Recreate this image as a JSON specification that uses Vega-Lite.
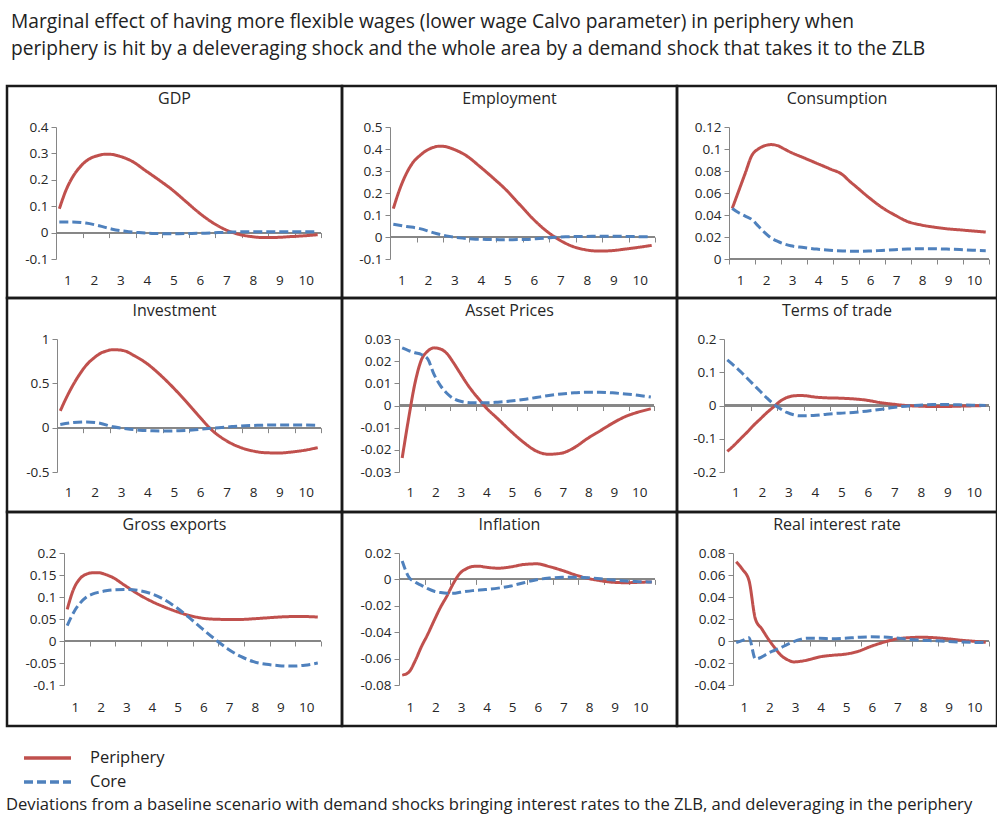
{
  "$schema": "https://vega.github.io/schema/vega-lite/v6.json",
  "background": "white",
  "padding": {"left": 5, "top": 12, "right": 0, "bottom": 0},
  "bounds": "flush",
  "title": {
    "text": ["Marginal effect of having more flexible wages (lower wage Calvo parameter) in periphery when", "periphery is hit by a deleveraging shock and the whole area by a demand shock that takes it to the ZLB"],
    "anchor": "start", "frame": "group", "font": "Open Sans", "fontSize": 19.2, "fontWeight": "normal", "color": "#222222", "lineHeight": 27, "offset": 26, "dx": 4
  },
  "datasets": {
    "gdp": [
      {"q":1,"s":"Periphery","v":0.09},{"q":2,"s":"Periphery","v":0.16},{"q":3,"s":"Periphery","v":0.21},{"q":4,"s":"Periphery","v":0.245},{"q":5,"s":"Periphery","v":0.27},{"q":6,"s":"Periphery","v":0.285},{"q":7,"s":"Periphery","v":0.293},{"q":8,"s":"Periphery","v":0.297},{"q":9,"s":"Periphery","v":0.296},{"q":10,"s":"Periphery","v":0.29},{"q":12,"s":"Periphery","v":0.27},{"q":14,"s":"Periphery","v":0.235},{"q":16,"s":"Periphery","v":0.2},{"q":18,"s":"Periphery","v":0.163},{"q":20,"s":"Periphery","v":0.12},{"q":22,"s":"Periphery","v":0.077},{"q":24,"s":"Periphery","v":0.04},{"q":26,"s":"Periphery","v":0.012},{"q":28,"s":"Periphery","v":-0.006},{"q":30,"s":"Periphery","v":-0.015},{"q":32,"s":"Periphery","v":-0.019},{"q":34,"s":"Periphery","v":-0.018},{"q":36,"s":"Periphery","v":-0.015},{"q":38,"s":"Periphery","v":-0.012},{"q":40,"s":"Periphery","v":-0.008},
      {"q":1,"s":"Core","v":0.04},{"q":3,"s":"Core","v":0.04},{"q":5,"s":"Core","v":0.036},{"q":7,"s":"Core","v":0.026},{"q":9,"s":"Core","v":0.013},{"q":11,"s":"Core","v":0.005},{"q":13,"s":"Core","v":0.0},{"q":15,"s":"Core","v":-0.003},{"q":17,"s":"Core","v":-0.004},{"q":19,"s":"Core","v":-0.004},{"q":21,"s":"Core","v":-0.003},{"q":23,"s":"Core","v":-0.002},{"q":25,"s":"Core","v":0.0},{"q":27,"s":"Core","v":0.002},{"q":29,"s":"Core","v":0.003},{"q":31,"s":"Core","v":0.003},{"q":33,"s":"Core","v":0.003},{"q":35,"s":"Core","v":0.003},{"q":37,"s":"Core","v":0.003},{"q":40,"s":"Core","v":0.003}
    ],
    "emp": [
      {"q":1,"s":"Periphery","v":0.129},{"q":2,"s":"Periphery","v":0.22},{"q":3,"s":"Periphery","v":0.29},{"q":4,"s":"Periphery","v":0.34},{"q":5,"s":"Periphery","v":0.37},{"q":6,"s":"Periphery","v":0.393},{"q":7,"s":"Periphery","v":0.407},{"q":8,"s":"Periphery","v":0.413},{"q":9,"s":"Periphery","v":0.41},{"q":10,"s":"Periphery","v":0.4},{"q":12,"s":"Periphery","v":0.37},{"q":14,"s":"Periphery","v":0.322},{"q":16,"s":"Periphery","v":0.27},{"q":18,"s":"Periphery","v":0.215},{"q":20,"s":"Periphery","v":0.15},{"q":22,"s":"Periphery","v":0.085},{"q":24,"s":"Periphery","v":0.03},{"q":26,"s":"Periphery","v":-0.012},{"q":28,"s":"Periphery","v":-0.042},{"q":30,"s":"Periphery","v":-0.058},{"q":32,"s":"Periphery","v":-0.064},{"q":34,"s":"Periphery","v":-0.062},{"q":36,"s":"Periphery","v":-0.055},{"q":38,"s":"Periphery","v":-0.047},{"q":40,"s":"Periphery","v":-0.038},
      {"q":1,"s":"Core","v":0.058},{"q":3,"s":"Core","v":0.048},{"q":5,"s":"Core","v":0.038},{"q":7,"s":"Core","v":0.02},{"q":9,"s":"Core","v":0.005},{"q":11,"s":"Core","v":-0.004},{"q":13,"s":"Core","v":-0.009},{"q":15,"s":"Core","v":-0.011},{"q":17,"s":"Core","v":-0.012},{"q":19,"s":"Core","v":-0.012},{"q":21,"s":"Core","v":-0.011},{"q":23,"s":"Core","v":-0.007},{"q":25,"s":"Core","v":-0.002},{"q":27,"s":"Core","v":0.001},{"q":29,"s":"Core","v":0.002},{"q":31,"s":"Core","v":0.003},{"q":33,"s":"Core","v":0.003},{"q":35,"s":"Core","v":0.003},{"q":37,"s":"Core","v":0.002},{"q":40,"s":"Core","v":0.001}
    ],
    "cons": [
      {"q":1,"s":"Periphery","v":0.046},{"q":2,"s":"Periphery","v":0.062},{"q":3,"s":"Periphery","v":0.078},{"q":4,"s":"Periphery","v":0.094},{"q":5,"s":"Periphery","v":0.1},{"q":6,"s":"Periphery","v":0.103},{"q":7,"s":"Periphery","v":0.104},{"q":8,"s":"Periphery","v":0.103},{"q":9,"s":"Periphery","v":0.1},{"q":10,"s":"Periphery","v":0.097},{"q":12,"s":"Periphery","v":0.092},{"q":14,"s":"Periphery","v":0.087},{"q":16,"s":"Periphery","v":0.082},{"q":18,"s":"Periphery","v":0.0765},{"q":19,"s":"Periphery","v":0.071},{"q":20,"s":"Periphery","v":0.066},{"q":22,"s":"Periphery","v":0.056},{"q":24,"s":"Periphery","v":0.047},{"q":26,"s":"Periphery","v":0.04},{"q":28,"s":"Periphery","v":0.034},{"q":30,"s":"Periphery","v":0.031},{"q":32,"s":"Periphery","v":0.029},{"q":34,"s":"Periphery","v":0.0275},{"q":36,"s":"Periphery","v":0.0265},{"q":38,"s":"Periphery","v":0.0255},{"q":40,"s":"Periphery","v":0.0245},
      {"q":1,"s":"Core","v":0.046},{"q":2,"s":"Core","v":0.042},{"q":3,"s":"Core","v":0.039},{"q":4,"s":"Core","v":0.036},{"q":5,"s":"Core","v":0.03},{"q":6,"s":"Core","v":0.024},{"q":7,"s":"Core","v":0.019},{"q":8,"s":"Core","v":0.016},{"q":10,"s":"Core","v":0.012},{"q":12,"s":"Core","v":0.0105},{"q":14,"s":"Core","v":0.009},{"q":16,"s":"Core","v":0.008},{"q":18,"s":"Core","v":0.0073},{"q":20,"s":"Core","v":0.007},{"q":22,"s":"Core","v":0.0072},{"q":24,"s":"Core","v":0.0078},{"q":26,"s":"Core","v":0.0085},{"q":28,"s":"Core","v":0.009},{"q":30,"s":"Core","v":0.0093},{"q":32,"s":"Core","v":0.0093},{"q":34,"s":"Core","v":0.009},{"q":36,"s":"Core","v":0.0086},{"q":38,"s":"Core","v":0.008},{"q":40,"s":"Core","v":0.0076}
    ],
    "inv": [
      {"q":1,"s":"Periphery","v":0.19},{"q":2,"s":"Periphery","v":0.35},{"q":3,"s":"Periphery","v":0.49},{"q":4,"s":"Periphery","v":0.61},{"q":5,"s":"Periphery","v":0.71},{"q":6,"s":"Periphery","v":0.78},{"q":7,"s":"Periphery","v":0.835},{"q":8,"s":"Periphery","v":0.865},{"q":9,"s":"Periphery","v":0.88},{"q":10,"s":"Periphery","v":0.876},{"q":11,"s":"Periphery","v":0.86},{"q":12,"s":"Periphery","v":0.82},{"q":14,"s":"Periphery","v":0.73},{"q":16,"s":"Periphery","v":0.605},{"q":18,"s":"Periphery","v":0.46},{"q":20,"s":"Periphery","v":0.3},{"q":22,"s":"Periphery","v":0.13},{"q":24,"s":"Periphery","v":-0.03},{"q":26,"s":"Periphery","v":-0.14},{"q":28,"s":"Periphery","v":-0.215},{"q":30,"s":"Periphery","v":-0.26},{"q":32,"s":"Periphery","v":-0.282},{"q":34,"s":"Periphery","v":-0.286},{"q":36,"s":"Periphery","v":-0.275},{"q":38,"s":"Periphery","v":-0.255},{"q":40,"s":"Periphery","v":-0.225},
      {"q":1,"s":"Core","v":0.035},{"q":3,"s":"Core","v":0.058},{"q":5,"s":"Core","v":0.065},{"q":7,"s":"Core","v":0.05},{"q":9,"s":"Core","v":0.01},{"q":11,"s":"Core","v":-0.012},{"q":13,"s":"Core","v":-0.028},{"q":15,"s":"Core","v":-0.036},{"q":17,"s":"Core","v":-0.038},{"q":19,"s":"Core","v":-0.035},{"q":21,"s":"Core","v":-0.027},{"q":23,"s":"Core","v":-0.013},{"q":25,"s":"Core","v":0.0},{"q":27,"s":"Core","v":0.012},{"q":29,"s":"Core","v":0.022},{"q":31,"s":"Core","v":0.027},{"q":33,"s":"Core","v":0.03},{"q":35,"s":"Core","v":0.03},{"q":37,"s":"Core","v":0.03},{"q":40,"s":"Core","v":0.026}
    ],
    "asset": [
      {"q":1,"s":"Periphery","v":-0.0237},{"q":2,"s":"Periphery","v":-0.006},{"q":3,"s":"Periphery","v":0.01},{"q":4,"s":"Periphery","v":0.0205},{"q":5,"s":"Periphery","v":0.0245},{"q":6,"s":"Periphery","v":0.026},{"q":7,"s":"Periphery","v":0.0255},{"q":8,"s":"Periphery","v":0.0235},{"q":9,"s":"Periphery","v":0.0195},{"q":10,"s":"Periphery","v":0.015},{"q":11,"s":"Periphery","v":0.0105},{"q":12,"s":"Periphery","v":0.0065},{"q":13,"s":"Periphery","v":0.003},{"q":14,"s":"Periphery","v":-0.0005},{"q":16,"s":"Periphery","v":-0.006},{"q":18,"s":"Periphery","v":-0.0115},{"q":20,"s":"Periphery","v":-0.0165},{"q":22,"s":"Periphery","v":-0.0205},{"q":24,"s":"Periphery","v":-0.022},{"q":26,"s":"Periphery","v":-0.0215},{"q":28,"s":"Periphery","v":-0.019},{"q":30,"s":"Periphery","v":-0.015},{"q":32,"s":"Periphery","v":-0.0115},{"q":34,"s":"Periphery","v":-0.008},{"q":36,"s":"Periphery","v":-0.005},{"q":38,"s":"Periphery","v":-0.003},{"q":40,"s":"Periphery","v":-0.0015},
      {"q":1,"s":"Core","v":0.026},{"q":2,"s":"Core","v":0.0248},{"q":3,"s":"Core","v":0.0238},{"q":4,"s":"Core","v":0.023},{"q":5,"s":"Core","v":0.021},{"q":6,"s":"Core","v":0.014},{"q":7,"s":"Core","v":0.009},{"q":8,"s":"Core","v":0.0055},{"q":9,"s":"Core","v":0.0032},{"q":10,"s":"Core","v":0.002},{"q":12,"s":"Core","v":0.0012},{"q":14,"s":"Core","v":0.0012},{"q":16,"s":"Core","v":0.0015},{"q":18,"s":"Core","v":0.002},{"q":20,"s":"Core","v":0.0027},{"q":22,"s":"Core","v":0.0036},{"q":24,"s":"Core","v":0.0045},{"q":26,"s":"Core","v":0.0052},{"q":28,"s":"Core","v":0.0057},{"q":30,"s":"Core","v":0.006},{"q":32,"s":"Core","v":0.006},{"q":34,"s":"Core","v":0.0057},{"q":36,"s":"Core","v":0.0052},{"q":38,"s":"Core","v":0.0046},{"q":40,"s":"Core","v":0.0038}
    ],
    "tot": [
      {"q":1,"s":"Periphery","v":-0.138},{"q":2,"s":"Periphery","v":-0.12},{"q":3,"s":"Periphery","v":-0.1},{"q":4,"s":"Periphery","v":-0.08},{"q":5,"s":"Periphery","v":-0.059},{"q":6,"s":"Periphery","v":-0.04},{"q":7,"s":"Periphery","v":-0.021},{"q":8,"s":"Periphery","v":-0.004},{"q":9,"s":"Periphery","v":0.013},{"q":10,"s":"Periphery","v":0.024},{"q":11,"s":"Periphery","v":0.029},{"q":12,"s":"Periphery","v":0.03},{"q":13,"s":"Periphery","v":0.029},{"q":14,"s":"Periphery","v":0.026},{"q":16,"s":"Periphery","v":0.023},{"q":18,"s":"Periphery","v":0.022},{"q":20,"s":"Periphery","v":0.02},{"q":22,"s":"Periphery","v":0.016},{"q":24,"s":"Periphery","v":0.009},{"q":26,"s":"Periphery","v":0.004},{"q":28,"s":"Periphery","v":0.0},{"q":30,"s":"Periphery","v":-0.002},{"q":32,"s":"Periphery","v":-0.003},{"q":34,"s":"Periphery","v":-0.003},{"q":36,"s":"Periphery","v":-0.002},{"q":38,"s":"Periphery","v":-0.001},{"q":40,"s":"Periphery","v":0.0},
      {"q":1,"s":"Core","v":0.137},{"q":2,"s":"Core","v":0.12},{"q":3,"s":"Core","v":0.102},{"q":4,"s":"Core","v":0.082},{"q":5,"s":"Core","v":0.062},{"q":6,"s":"Core","v":0.042},{"q":7,"s":"Core","v":0.022},{"q":8,"s":"Core","v":0.004},{"q":9,"s":"Core","v":-0.01},{"q":10,"s":"Core","v":-0.021},{"q":11,"s":"Core","v":-0.028},{"q":12,"s":"Core","v":-0.031},{"q":14,"s":"Core","v":-0.03},{"q":16,"s":"Core","v":-0.026},{"q":18,"s":"Core","v":-0.023},{"q":20,"s":"Core","v":-0.021},{"q":22,"s":"Core","v":-0.017},{"q":24,"s":"Core","v":-0.012},{"q":26,"s":"Core","v":-0.006},{"q":28,"s":"Core","v":-0.002},{"q":30,"s":"Core","v":0.001},{"q":32,"s":"Core","v":0.003},{"q":34,"s":"Core","v":0.003},{"q":36,"s":"Core","v":0.002},{"q":38,"s":"Core","v":0.001},{"q":40,"s":"Core","v":0.0}
    ],
    "exp": [
      {"q":1,"s":"Periphery","v":0.072},{"q":2,"s":"Periphery","v":0.118},{"q":3,"s":"Periphery","v":0.142},{"q":4,"s":"Periphery","v":0.152},{"q":5,"s":"Periphery","v":0.155},{"q":6,"s":"Periphery","v":0.155},{"q":7,"s":"Periphery","v":0.151},{"q":8,"s":"Periphery","v":0.145},{"q":10,"s":"Periphery","v":0.126},{"q":12,"s":"Periphery","v":0.107},{"q":14,"s":"Periphery","v":0.091},{"q":16,"s":"Periphery","v":0.078},{"q":18,"s":"Periphery","v":0.067},{"q":20,"s":"Periphery","v":0.058},{"q":22,"s":"Periphery","v":0.052},{"q":24,"s":"Periphery","v":0.0495},{"q":26,"s":"Periphery","v":0.049},{"q":28,"s":"Periphery","v":0.049},{"q":30,"s":"Periphery","v":0.0505},{"q":32,"s":"Periphery","v":0.0525},{"q":34,"s":"Periphery","v":0.0545},{"q":36,"s":"Periphery","v":0.0555},{"q":38,"s":"Periphery","v":0.0555},{"q":40,"s":"Periphery","v":0.0545},
      {"q":1,"s":"Core","v":0.035},{"q":2,"s":"Core","v":0.065},{"q":3,"s":"Core","v":0.086},{"q":4,"s":"Core","v":0.1},{"q":5,"s":"Core","v":0.107},{"q":6,"s":"Core","v":0.111},{"q":7,"s":"Core","v":0.114},{"q":8,"s":"Core","v":0.116},{"q":10,"s":"Core","v":0.117},{"q":12,"s":"Core","v":0.115},{"q":14,"s":"Core","v":0.108},{"q":16,"s":"Core","v":0.095},{"q":18,"s":"Core","v":0.076},{"q":20,"s":"Core","v":0.053},{"q":22,"s":"Core","v":0.028},{"q":24,"s":"Core","v":0.004},{"q":26,"s":"Core","v":-0.018},{"q":28,"s":"Core","v":-0.035},{"q":30,"s":"Core","v":-0.047},{"q":32,"s":"Core","v":-0.053},{"q":34,"s":"Core","v":-0.056},{"q":36,"s":"Core","v":-0.057},{"q":38,"s":"Core","v":-0.055},{"q":40,"s":"Core","v":-0.05}
    ],
    "infl": [
      {"q":1,"s":"Periphery","v":-0.0725},{"q":2,"s":"Periphery","v":-0.0705},{"q":3,"s":"Periphery","v":-0.062},{"q":4,"s":"Periphery","v":-0.051},{"q":5,"s":"Periphery","v":-0.0415},{"q":6,"s":"Periphery","v":-0.031},{"q":7,"s":"Periphery","v":-0.021},{"q":8,"s":"Periphery","v":-0.0125},{"q":9,"s":"Periphery","v":-0.003},{"q":10,"s":"Periphery","v":0.0045},{"q":11,"s":"Periphery","v":0.008},{"q":12,"s":"Periphery","v":0.0098},{"q":13,"s":"Periphery","v":0.01},{"q":14,"s":"Periphery","v":0.0093},{"q":16,"s":"Periphery","v":0.0085},{"q":18,"s":"Periphery","v":0.0095},{"q":20,"s":"Periphery","v":0.0113},{"q":22,"s":"Periphery","v":0.0118},{"q":24,"s":"Periphery","v":0.0097},{"q":26,"s":"Periphery","v":0.0068},{"q":28,"s":"Periphery","v":0.0035},{"q":30,"s":"Periphery","v":0.0008},{"q":32,"s":"Periphery","v":-0.001},{"q":34,"s":"Periphery","v":-0.0022},{"q":36,"s":"Periphery","v":-0.0025},{"q":38,"s":"Periphery","v":-0.0022},{"q":40,"s":"Periphery","v":-0.0019},
      {"q":1,"s":"Core","v":0.014},{"q":2,"s":"Core","v":0.002},{"q":3,"s":"Core","v":-0.002},{"q":4,"s":"Core","v":-0.0045},{"q":5,"s":"Core","v":-0.007},{"q":6,"s":"Core","v":-0.009},{"q":7,"s":"Core","v":-0.01},{"q":8,"s":"Core","v":-0.0105},{"q":9,"s":"Core","v":-0.0105},{"q":10,"s":"Core","v":-0.0098},{"q":12,"s":"Core","v":-0.0085},{"q":14,"s":"Core","v":-0.0077},{"q":16,"s":"Core","v":-0.0066},{"q":18,"s":"Core","v":-0.005},{"q":20,"s":"Core","v":-0.0025},{"q":22,"s":"Core","v":-0.0002},{"q":24,"s":"Core","v":0.001},{"q":26,"s":"Core","v":0.0016},{"q":28,"s":"Core","v":0.0017},{"q":30,"s":"Core","v":0.0013},{"q":32,"s":"Core","v":0.0005},{"q":34,"s":"Core","v":-0.0005},{"q":36,"s":"Core","v":-0.0012},{"q":38,"s":"Core","v":-0.0017},{"q":40,"s":"Core","v":-0.002}
    ],
    "rate": [
      {"q":1,"s":"Periphery","v":0.072},{"q":2,"s":"Periphery","v":0.065},{"q":3,"s":"Periphery","v":0.055},{"q":4,"s":"Periphery","v":0.02},{"q":5,"s":"Periphery","v":0.011},{"q":6,"s":"Periphery","v":0.002},{"q":7,"s":"Periphery","v":-0.006},{"q":8,"s":"Periphery","v":-0.013},{"q":9,"s":"Periphery","v":-0.017},{"q":10,"s":"Periphery","v":-0.019},{"q":11,"s":"Periphery","v":-0.0185},{"q":12,"s":"Periphery","v":-0.0175},{"q":14,"s":"Periphery","v":-0.0145},{"q":16,"s":"Periphery","v":-0.013},{"q":18,"s":"Periphery","v":-0.012},{"q":20,"s":"Periphery","v":-0.0095},{"q":22,"s":"Periphery","v":-0.005},{"q":24,"s":"Periphery","v":-0.0012},{"q":26,"s":"Periphery","v":0.0018},{"q":28,"s":"Periphery","v":0.003},{"q":30,"s":"Periphery","v":0.0034},{"q":32,"s":"Periphery","v":0.003},{"q":34,"s":"Periphery","v":0.002},{"q":36,"s":"Periphery","v":0.0008},{"q":38,"s":"Periphery","v":-0.0002},{"q":40,"s":"Periphery","v":-0.0012},
      {"q":1,"s":"Core","v":-0.0015},{"q":2,"s":"Core","v":0.0005},{"q":3,"s":"Core","v":0.003},{"q":4,"s":"Core","v":-0.0163},{"q":5,"s":"Core","v":-0.0145},{"q":6,"s":"Core","v":-0.011},{"q":7,"s":"Core","v":-0.0085},{"q":8,"s":"Core","v":-0.006},{"q":9,"s":"Core","v":-0.003},{"q":10,"s":"Core","v":-0.0005},{"q":11,"s":"Core","v":0.0015},{"q":12,"s":"Core","v":0.0025},{"q":14,"s":"Core","v":0.0025},{"q":16,"s":"Core","v":0.002},{"q":18,"s":"Core","v":0.0025},{"q":20,"s":"Core","v":0.0033},{"q":22,"s":"Core","v":0.0038},{"q":24,"s":"Core","v":0.0036},{"q":26,"s":"Core","v":0.0028},{"q":28,"s":"Core","v":0.0015},{"q":30,"s":"Core","v":0.0007},{"q":32,"s":"Core","v":0.0002},{"q":34,"s":"Core","v":-0.0004},{"q":36,"s":"Core","v":-0.0009},{"q":38,"s":"Core","v":-0.0013},{"q":40,"s":"Core","v":-0.0015}
    ]
  },
  "columns": 3,
  "spacing": 0,
  "concat": [
    {
      "width": 335, "height": 212,
      "title": {"text": "GDP"},
      "data": {"name": "gdp"},
      "resolve": {"axis": {"x": "independent"}},
      "layer": [
        {"mark": {"type": "rule", "color": "#868686", "strokeWidth": 1.3},
         "encoding": {
           "x": {"datum": 0.5, "type": "quantitative", "scale": {"domain": [0.5, 40.5], "range": [49, 314], "nice": false, "zero": false},
                 "axis": {"orient": "bottom", "offset": -65.4, "values": [0.5,4.5,8.5,12.5,16.5,20.5,24.5,28.5,32.5,36.5,40.5], "labels": false, "domain": false, "tickSize": 5, "tickColor": "#868686", "grid": false, "title": null}},
           "x2": {"datum": 40.5},
           "y": {"datum": 0, "type": "quantitative", "scale": {"domain": [-0.1, 0.4], "range": [173, 41], "nice": false, "zero": false},
                 "axis": {"orient": "left", "offset": -49, "values": [-0.1,0,0.1,0.2,0.3,0.4], "labelExpr": "'' + datum.value", "title": null}}
         }},
        {"mark": {"type": "line", "strokeWidth": 3, "interpolate": "monotone"},
         "encoding": {
           "x": {"field": "q", "type": "quantitative", "axis": {"orient": "bottom", "offset": -27, "values": [2.5,6.5,10.5,14.5,18.5,22.5,26.5,30.5,34.5,38.5], "labelExpr": "'' + (datum.value + 1.5) / 4", "domain": false, "ticks": false, "tickSize": 0, "grid": false, "title": null}},
           "y": {"field": "v", "type": "quantitative", "axis": {"orient": "left", "offset": -49, "values": [-0.1,0,0.1,0.2,0.3,0.4], "labelExpr": "'' + datum.value", "title": null}},
           "color": {"field": "s", "type": "nominal", "title": "Deviations from a baseline scenario with demand shocks bringing interest rates to the ZLB, and deleveraging in the periphery", "scale": {"domain": ["Periphery", "Core"], "range": ["#C0504D", "#4F81BD"]}},
           "strokeDash": {"field": "s", "type": "nominal", "title": "Deviations from a baseline scenario with demand shocks bringing interest rates to the ZLB, and deleveraging in the periphery", "scale": {"domain": ["Periphery", "Core"], "range": [[1, 0], [9, 4]]}}
         }}
      ]
    },
    {
      "width": 335, "height": 212,
      "title": {"text": "Employment"},
      "data": {"name": "emp"},
      "resolve": {"axis": {"x": "independent"}},
      "layer": [
        {"mark": {"type": "rule", "color": "#868686", "strokeWidth": 1.3},
         "encoding": {
           "x": {"datum": 0.5, "type": "quantitative", "scale": {"domain": [0.5, 40.5], "range": [48, 313], "nice": false, "zero": false},
                 "axis": {"orient": "bottom", "offset": -61, "values": [0.5,4.5,8.5,12.5,16.5,20.5,24.5,28.5,32.5,36.5,40.5], "labels": false, "domain": false, "tickSize": 5, "tickColor": "#868686", "grid": false, "title": null}},
           "x2": {"datum": 40.5},
           "y": {"datum": 0, "type": "quantitative", "scale": {"domain": [-0.1, 0.5], "range": [173, 41], "nice": false, "zero": false},
                 "axis": {"orient": "left", "offset": -48, "values": [-0.1,0,0.1,0.2,0.3,0.4,0.5], "labelExpr": "'' + datum.value", "title": null}}
         }},
        {"mark": {"type": "line", "strokeWidth": 3, "interpolate": "monotone"},
         "encoding": {
           "x": {"field": "q", "type": "quantitative", "axis": {"orient": "bottom", "offset": -27, "values": [2.5,6.5,10.5,14.5,18.5,22.5,26.5,30.5,34.5,38.5], "labelExpr": "'' + (datum.value + 1.5) / 4", "domain": false, "ticks": false, "tickSize": 0, "grid": false, "title": null}},
           "y": {"field": "v", "type": "quantitative", "axis": {"orient": "left", "offset": -48, "values": [-0.1,0,0.1,0.2,0.3,0.4,0.5], "labelExpr": "'' + datum.value", "title": null}},
           "color": {"field": "s", "type": "nominal", "title": "Deviations from a baseline scenario with demand shocks bringing interest rates to the ZLB, and deleveraging in the periphery", "scale": {"domain": ["Periphery", "Core"], "range": ["#C0504D", "#4F81BD"]}},
           "strokeDash": {"field": "s", "type": "nominal", "title": "Deviations from a baseline scenario with demand shocks bringing interest rates to the ZLB, and deleveraging in the periphery", "scale": {"domain": ["Periphery", "Core"], "range": [[1, 0], [9, 4]]}}
         }}
      ]
    },
    {
      "width": 320, "height": 212,
      "title": {"text": "Consumption"},
      "data": {"name": "cons"},
      "resolve": {"axis": {"x": "independent"}},
      "layer": [
        {"mark": {"type": "rule", "color": "#868686", "strokeWidth": 1.3},
         "encoding": {
           "x": {"datum": 0.5, "type": "quantitative", "scale": {"domain": [0.5, 40.5], "range": [52, 312], "nice": false, "zero": false},
                 "axis": {"orient": "bottom", "offset": -39, "values": [0.5,4.5,8.5,12.5,16.5,20.5,24.5,28.5,32.5,36.5,40.5], "labels": false, "domain": false, "tickSize": 5, "tickColor": "#868686", "grid": false, "title": null}},
           "x2": {"datum": 40.5},
           "y": {"datum": 0, "type": "quantitative", "scale": {"domain": [0, 0.12], "range": [173, 41], "nice": false, "zero": false},
                 "axis": {"orient": "left", "offset": -52, "values": [0,0.02,0.04,0.06,0.08,0.1,0.12], "labelExpr": "'' + datum.value", "title": null}}
         }},
        {"mark": {"type": "line", "strokeWidth": 3, "interpolate": "monotone"},
         "encoding": {
           "x": {"field": "q", "type": "quantitative", "axis": {"orient": "bottom", "offset": -27, "values": [2.5,6.5,10.5,14.5,18.5,22.5,26.5,30.5,34.5,38.5], "labelExpr": "'' + (datum.value + 1.5) / 4", "domain": false, "ticks": false, "tickSize": 0, "grid": false, "title": null}},
           "y": {"field": "v", "type": "quantitative", "axis": {"orient": "left", "offset": -52, "values": [0,0.02,0.04,0.06,0.08,0.1,0.12], "labelExpr": "'' + datum.value", "title": null}},
           "color": {"field": "s", "type": "nominal", "title": "Deviations from a baseline scenario with demand shocks bringing interest rates to the ZLB, and deleveraging in the periphery", "scale": {"domain": ["Periphery", "Core"], "range": ["#C0504D", "#4F81BD"]}},
           "strokeDash": {"field": "s", "type": "nominal", "title": "Deviations from a baseline scenario with demand shocks bringing interest rates to the ZLB, and deleveraging in the periphery", "scale": {"domain": ["Periphery", "Core"], "range": [[1, 0], [9, 4]]}}
         }}
      ]
    },
    {
      "width": 335, "height": 214,
      "title": {"text": "Investment"},
      "data": {"name": "inv"},
      "resolve": {"axis": {"x": "independent"}},
      "layer": [
        {"mark": {"type": "rule", "color": "#868686", "strokeWidth": 1.3},
         "encoding": {
           "x": {"datum": 0.5, "type": "quantitative", "scale": {"domain": [0.5, 40.5], "range": [50, 314], "nice": false, "zero": false},
                 "axis": {"orient": "bottom", "offset": -84.3, "values": [0.5,4.5,8.5,12.5,16.5,20.5,24.5,28.5,32.5,36.5,40.5], "labels": false, "domain": false, "tickSize": 5, "tickColor": "#868686", "grid": false, "title": null}},
           "x2": {"datum": 40.5},
           "y": {"datum": 0, "type": "quantitative", "scale": {"domain": [-0.5, 1], "range": [174, 41], "nice": false, "zero": false},
                 "axis": {"orient": "left", "offset": -50, "values": [-0.5,0,0.5,1], "labelExpr": "'' + datum.value", "title": null}}
         }},
        {"mark": {"type": "line", "strokeWidth": 3, "interpolate": "monotone"},
         "encoding": {
           "x": {"field": "q", "type": "quantitative", "axis": {"orient": "bottom", "offset": -29, "values": [2.5,6.5,10.5,14.5,18.5,22.5,26.5,30.5,34.5,38.5], "labelExpr": "'' + (datum.value + 1.5) / 4", "domain": false, "ticks": false, "tickSize": 0, "grid": false, "title": null}},
           "y": {"field": "v", "type": "quantitative", "axis": {"orient": "left", "offset": -50, "values": [-0.5,0,0.5,1], "labelExpr": "'' + datum.value", "title": null}},
           "color": {"field": "s", "type": "nominal", "title": "Deviations from a baseline scenario with demand shocks bringing interest rates to the ZLB, and deleveraging in the periphery", "scale": {"domain": ["Periphery", "Core"], "range": ["#C0504D", "#4F81BD"]}},
           "strokeDash": {"field": "s", "type": "nominal", "title": "Deviations from a baseline scenario with demand shocks bringing interest rates to the ZLB, and deleveraging in the periphery", "scale": {"domain": ["Periphery", "Core"], "range": [[1, 0], [9, 4]]}}
         }}
      ]
    },
    {
      "width": 335, "height": 214,
      "title": {"text": "Asset Prices"},
      "data": {"name": "asset"},
      "resolve": {"axis": {"x": "independent"}},
      "layer": [
        {"mark": {"type": "rule", "color": "#868686", "strokeWidth": 1.3},
         "encoding": {
           "x": {"datum": 0.5, "type": "quantitative", "scale": {"domain": [0.5, 40.5], "range": [57, 312], "nice": false, "zero": false},
                 "axis": {"orient": "bottom", "offset": -106.5, "values": [0.5,4.5,8.5,12.5,16.5,20.5,24.5,28.5,32.5,36.5,40.5], "labels": false, "domain": false, "tickSize": 5, "tickColor": "#868686", "grid": false, "title": null}},
           "x2": {"datum": 40.5},
           "y": {"datum": 0, "type": "quantitative", "scale": {"domain": [-0.03, 0.03], "range": [174, 41], "nice": false, "zero": false},
                 "axis": {"orient": "left", "offset": -57, "values": [-0.03,-0.02,-0.01,0,0.01,0.02,0.03], "labelExpr": "'' + datum.value", "title": null}}
         }},
        {"mark": {"type": "line", "strokeWidth": 3, "interpolate": "monotone"},
         "encoding": {
           "x": {"field": "q", "type": "quantitative", "axis": {"orient": "bottom", "offset": -29, "values": [2.5,6.5,10.5,14.5,18.5,22.5,26.5,30.5,34.5,38.5], "labelExpr": "'' + (datum.value + 1.5) / 4", "domain": false, "ticks": false, "tickSize": 0, "grid": false, "title": null}},
           "y": {"field": "v", "type": "quantitative", "axis": {"orient": "left", "offset": -57, "values": [-0.03,-0.02,-0.01,0,0.01,0.02,0.03], "labelExpr": "'' + datum.value", "title": null}},
           "color": {"field": "s", "type": "nominal", "title": "Deviations from a baseline scenario with demand shocks bringing interest rates to the ZLB, and deleveraging in the periphery", "scale": {"domain": ["Periphery", "Core"], "range": ["#C0504D", "#4F81BD"]}},
           "strokeDash": {"field": "s", "type": "nominal", "title": "Deviations from a baseline scenario with demand shocks bringing interest rates to the ZLB, and deleveraging in the periphery", "scale": {"domain": ["Periphery", "Core"], "range": [[1, 0], [9, 4]]}}
         }}
      ]
    },
    {
      "width": 320, "height": 214,
      "title": {"text": "Terms of trade"},
      "data": {"name": "tot"},
      "resolve": {"axis": {"x": "independent"}},
      "layer": [
        {"mark": {"type": "rule", "color": "#868686", "strokeWidth": 1.3},
         "encoding": {
           "x": {"datum": 0.5, "type": "quantitative", "scale": {"domain": [0.5, 40.5], "range": [47, 312], "nice": false, "zero": false},
                 "axis": {"orient": "bottom", "offset": -106.5, "values": [0.5,4.5,8.5,12.5,16.5,20.5,24.5,28.5,32.5,36.5,40.5], "labels": false, "domain": false, "tickSize": 5, "tickColor": "#868686", "grid": false, "title": null}},
           "x2": {"datum": 40.5},
           "y": {"datum": 0, "type": "quantitative", "scale": {"domain": [-0.2, 0.2], "range": [174, 41], "nice": false, "zero": false},
                 "axis": {"orient": "left", "offset": -47, "values": [-0.2,-0.1,0,0.1,0.2], "labelExpr": "'' + datum.value", "title": null}}
         }},
        {"mark": {"type": "line", "strokeWidth": 3, "interpolate": "monotone"},
         "encoding": {
           "x": {"field": "q", "type": "quantitative", "axis": {"orient": "bottom", "offset": -29, "values": [2.5,6.5,10.5,14.5,18.5,22.5,26.5,30.5,34.5,38.5], "labelExpr": "'' + (datum.value + 1.5) / 4", "domain": false, "ticks": false, "tickSize": 0, "grid": false, "title": null}},
           "y": {"field": "v", "type": "quantitative", "axis": {"orient": "left", "offset": -47, "values": [-0.2,-0.1,0,0.1,0.2], "labelExpr": "'' + datum.value", "title": null}},
           "color": {"field": "s", "type": "nominal", "title": "Deviations from a baseline scenario with demand shocks bringing interest rates to the ZLB, and deleveraging in the periphery", "scale": {"domain": ["Periphery", "Core"], "range": ["#C0504D", "#4F81BD"]}},
           "strokeDash": {"field": "s", "type": "nominal", "title": "Deviations from a baseline scenario with demand shocks bringing interest rates to the ZLB, and deleveraging in the periphery", "scale": {"domain": ["Periphery", "Core"], "range": [[1, 0], [9, 4]]}}
         }}
      ]
    },
    {
      "width": 335, "height": 214,
      "title": {"text": "Gross exports"},
      "data": {"name": "exp"},
      "resolve": {"axis": {"x": "independent"}},
      "layer": [
        {"mark": {"type": "rule", "color": "#868686", "strokeWidth": 1.3},
         "encoding": {
           "x": {"datum": 0.5, "type": "quantitative", "scale": {"domain": [0.5, 40.5], "range": [57, 314], "nice": false, "zero": false},
                 "axis": {"orient": "bottom", "offset": -85, "values": [0.5,4.5,8.5,12.5,16.5,20.5,24.5,28.5,32.5,36.5,40.5], "labels": false, "domain": false, "tickSize": 5, "tickColor": "#868686", "grid": false, "title": null}},
           "x2": {"datum": 40.5},
           "y": {"datum": 0, "type": "quantitative", "scale": {"domain": [-0.1, 0.2], "range": [173, 41], "nice": false, "zero": false},
                 "axis": {"orient": "left", "offset": -57, "values": [-0.1,-0.05,0,0.05,0.1,0.15,0.2], "labelExpr": "'' + datum.value", "title": null}}
         }},
        {"mark": {"type": "line", "strokeWidth": 3, "interpolate": "monotone"},
         "encoding": {
           "x": {"field": "q", "type": "quantitative", "axis": {"orient": "bottom", "offset": -28, "values": [2.5,6.5,10.5,14.5,18.5,22.5,26.5,30.5,34.5,38.5], "labelExpr": "'' + (datum.value + 1.5) / 4", "domain": false, "ticks": false, "tickSize": 0, "grid": false, "title": null}},
           "y": {"field": "v", "type": "quantitative", "axis": {"orient": "left", "offset": -57, "values": [-0.1,-0.05,0,0.05,0.1,0.15,0.2], "labelExpr": "'' + datum.value", "title": null}},
           "color": {"field": "s", "type": "nominal", "title": "Deviations from a baseline scenario with demand shocks bringing interest rates to the ZLB, and deleveraging in the periphery", "scale": {"domain": ["Periphery", "Core"], "range": ["#C0504D", "#4F81BD"]}},
           "strokeDash": {"field": "s", "type": "nominal", "title": "Deviations from a baseline scenario with demand shocks bringing interest rates to the ZLB, and deleveraging in the periphery", "scale": {"domain": ["Periphery", "Core"], "range": [[1, 0], [9, 4]]}}
         }}
      ]
    },
    {
      "width": 335, "height": 214,
      "title": {"text": "Inflation"},
      "data": {"name": "infl"},
      "resolve": {"axis": {"x": "independent"}},
      "layer": [
        {"mark": {"type": "rule", "color": "#868686", "strokeWidth": 1.3},
         "encoding": {
           "x": {"datum": 0.5, "type": "quantitative", "scale": {"domain": [0.5, 40.5], "range": [57, 313], "nice": false, "zero": false},
                 "axis": {"orient": "bottom", "offset": -146.6, "values": [0.5,4.5,8.5,12.5,16.5,20.5,24.5,28.5,32.5,36.5,40.5], "labels": false, "domain": false, "tickSize": 5, "tickColor": "#868686", "grid": false, "title": null}},
           "x2": {"datum": 40.5},
           "y": {"datum": 0, "type": "quantitative", "scale": {"domain": [-0.08, 0.02], "range": [173, 41], "nice": false, "zero": false},
                 "axis": {"orient": "left", "offset": -57, "values": [-0.08,-0.06,-0.04,-0.02,0,0.02], "labelExpr": "'' + datum.value", "title": null}}
         }},
        {"mark": {"type": "line", "strokeWidth": 3, "interpolate": "monotone"},
         "encoding": {
           "x": {"field": "q", "type": "quantitative", "axis": {"orient": "bottom", "offset": -28, "values": [2.5,6.5,10.5,14.5,18.5,22.5,26.5,30.5,34.5,38.5], "labelExpr": "'' + (datum.value + 1.5) / 4", "domain": false, "ticks": false, "tickSize": 0, "grid": false, "title": null}},
           "y": {"field": "v", "type": "quantitative", "axis": {"orient": "left", "offset": -57, "values": [-0.08,-0.06,-0.04,-0.02,0,0.02], "labelExpr": "'' + datum.value", "title": null}},
           "color": {"field": "s", "type": "nominal", "title": "Deviations from a baseline scenario with demand shocks bringing interest rates to the ZLB, and deleveraging in the periphery", "scale": {"domain": ["Periphery", "Core"], "range": ["#C0504D", "#4F81BD"]}},
           "strokeDash": {"field": "s", "type": "nominal", "title": "Deviations from a baseline scenario with demand shocks bringing interest rates to the ZLB, and deleveraging in the periphery", "scale": {"domain": ["Periphery", "Core"], "range": [[1, 0], [9, 4]]}}
         }}
      ]
    },
    {
      "width": 320, "height": 214,
      "title": {"text": "Real interest rate"},
      "data": {"name": "rate"},
      "resolve": {"axis": {"x": "independent"}},
      "layer": [
        {"mark": {"type": "rule", "color": "#868686", "strokeWidth": 1.3},
         "encoding": {
           "x": {"datum": 0.5, "type": "quantitative", "scale": {"domain": [0.5, 40.5], "range": [56, 312], "nice": false, "zero": false},
                 "axis": {"orient": "bottom", "offset": -85, "values": [0.5,4.5,8.5,12.5,16.5,20.5,24.5,28.5,32.5,36.5,40.5], "labels": false, "domain": false, "tickSize": 5, "tickColor": "#868686", "grid": false, "title": null}},
           "x2": {"datum": 40.5},
           "y": {"datum": 0, "type": "quantitative", "scale": {"domain": [-0.04, 0.08], "range": [173, 41], "nice": false, "zero": false},
                 "axis": {"orient": "left", "offset": -56, "values": [-0.04,-0.02,0,0.02,0.04,0.06,0.08], "labelExpr": "'' + datum.value", "title": null}}
         }},
        {"mark": {"type": "line", "strokeWidth": 3, "interpolate": "monotone"},
         "encoding": {
           "x": {"field": "q", "type": "quantitative", "axis": {"orient": "bottom", "offset": -28, "values": [2.5,6.5,10.5,14.5,18.5,22.5,26.5,30.5,34.5,38.5], "labelExpr": "'' + (datum.value + 1.5) / 4", "domain": false, "ticks": false, "tickSize": 0, "grid": false, "title": null}},
           "y": {"field": "v", "type": "quantitative", "axis": {"orient": "left", "offset": -56, "values": [-0.04,-0.02,0,0.02,0.04,0.06,0.08], "labelExpr": "'' + datum.value", "title": null}},
           "color": {"field": "s", "type": "nominal", "title": "Deviations from a baseline scenario with demand shocks bringing interest rates to the ZLB, and deleveraging in the periphery", "scale": {"domain": ["Periphery", "Core"], "range": ["#C0504D", "#4F81BD"]}},
           "strokeDash": {"field": "s", "type": "nominal", "title": "Deviations from a baseline scenario with demand shocks bringing interest rates to the ZLB, and deleveraging in the periphery", "scale": {"domain": ["Periphery", "Core"], "range": [[1, 0], [9, 4]]}}
         }}
      ]
    }
  ],
  "config": {
    "font": "Open Sans",
    "view": {"stroke": "#1a1a1a", "strokeWidth": 2.5},
    "concat": {"spacing": 0},
    "axis": {"labelFont": "Open Sans", "labelFontSize": 13.5, "labelColor": "#262626", "domainColor": "#868686", "tickColor": "#868686", "tickSize": 5, "labelPadding": 3, "grid": false, "labelOverlap": false, "labelFlush": false},
    "axisX": {"labelPadding": 2, "labelOffset": -2},
    "title": {"font": "Open Sans", "fontSize": 16, "fontWeight": "normal", "color": "#262626", "offset": -21, "anchor": "middle"},
    "legend": {"orient": "none", "legendX": -1, "legendY": 661, "titleOrient": "bottom", "titleAnchor": "start", "titleFont": "Open Sans", "titleFontSize": 16.6, "titleFontWeight": "normal", "titleColor": "#222222", "titleLimit": 1200, "titlePadding": 4, "labelFont": "Open Sans", "labelFontSize": 16.5, "labelColor": "#222222", "symbolType": "stroke", "symbolSize": 2209, "symbolStrokeWidth": 3.5, "symbolOffset": 16, "labelOffset": 17, "clipHeight": 22, "rowPadding": 2, "padding": 0}
  }
}
